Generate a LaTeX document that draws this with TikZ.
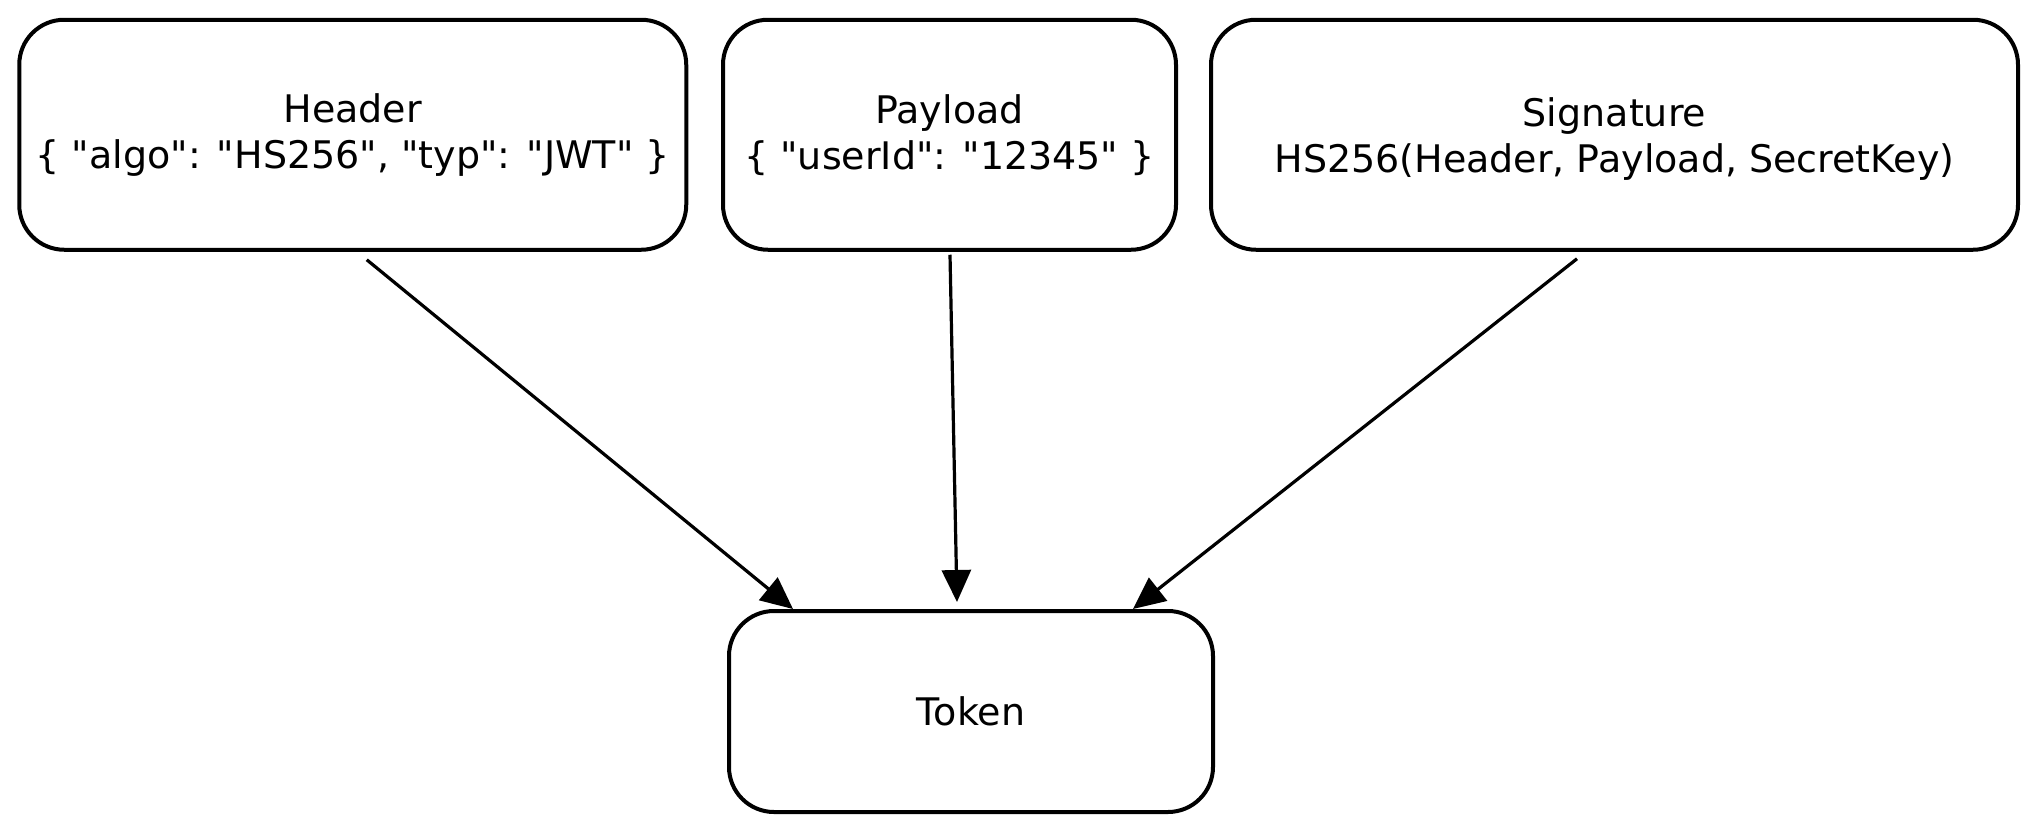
\documentclass[tikz,border=0pt]{standalone}
\usepackage{fontspec}
\setmainfont{DejaVu Sans}[Ligatures=TeXOff]
\usetikzlibrary{arrows.meta}
\begin{document}
\begin{tikzpicture}[x=1pt,y=-1pt,
  box/.style={draw=black, line width=4pt, rounded corners=45pt, fill=white,
    align=center, inner sep=0pt, font=\fontsize{38}{46}\selectfont},
  arr/.style={draw=black, line width=3.2pt, -{Triangle[length=32pt,width=29pt]}, shorten >=0pt}]
\useasboundingbox (0,0) rectangle (2038,833);
\node[box, minimum width=667pt, minimum height=230pt] (hdr) at (352.75,134.75)
  {Header\\\{ "algo": "HS256", "typ": "JWT" \}};
\node[box, minimum width=453pt, minimum height=230pt] (pay) at (949.5,134.75)
  {Payload\\\{ "userId": "12345" \}};
\node[box, minimum width=807pt, minimum height=230pt] (sig) at (1614.5,134.75)
  {\raisebox{-6pt}[\height][\depth]{\begin{tabular}{@{}c@{}}Signature\\HS256(Header, Payload, SecretKey)\end{tabular}}};
\node[box, minimum width=484pt, minimum height=201pt] (tok) at (971,711.5) {Token};
\draw[arr] ([xshift=14pt,yshift=-8pt]hdr.south) -- ([xshift=-178pt]tok.north);
\draw[arr] ([xshift=0.5pt,yshift=-3pt]pay.south) -- ([xshift=-14pt,yshift=7pt]tok.north);
\draw[arr] ([xshift=-37.5pt,yshift=-7pt]sig.south) -- ([xshift=162pt]tok.north);
\end{tikzpicture}
\end{document}
